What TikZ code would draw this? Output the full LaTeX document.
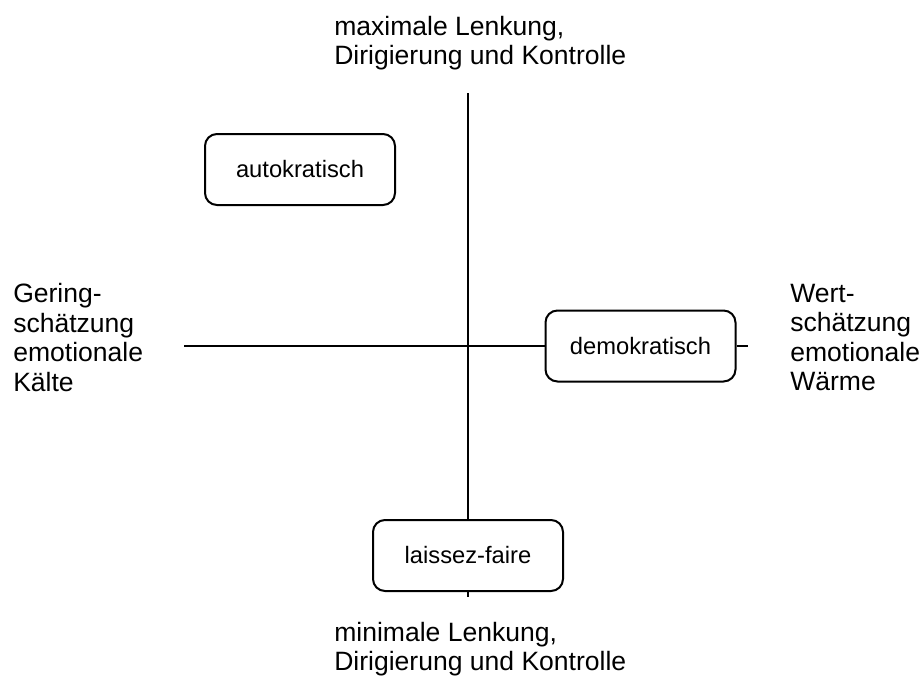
\documentclass[tikz,border=0pt]{standalone}
\usepackage{fontspec}
\setmainfont{Liberation Sans}
\usetikzlibrary{positioning}

\begin{document}
\begin{tikzpicture}[
  x=0.75pt, y=-0.75pt,
  stylebox/.style={rectangle, rounded corners=9pt, draw=black, line width=1.5pt, fill=white,
                   minimum width=142.5pt, minimum height=53.25pt, inner sep=0pt,
                   font=\fontsize{17.8}{21}\selectfont},
  axislabel/.style={align=left, inner sep=0pt, anchor=north west,
                    font=\fontsize{19.9}{22.1}\selectfont},
  axis/.style={line width=1.5pt}
]
\useasboundingbox (0,0) rectangle (921,678);

% end points of the two axes
\coordinate (top) at (468,93);
\coordinate (bottom) at (468,597);
\coordinate (left) at (184,346);
\coordinate (right) at (748,346);

% styles of leadership
\node[stylebox] (auto) at (300,169.5) {autokratisch};
\node[stylebox] (demo) at (640.5,346) {demokratisch};
\node[stylebox] (laissez) at (468,555.5) {laissez-faire};

\draw[axis] (top) -- (laissez.north);
\draw[axis] (laissez.south) -- (bottom);
\draw[axis] (left) -- (demo.west);
\draw[axis] (demo.east) -- (right);

% labels at the ends of the axes
\node[axislabel] (lenkmax) at (334,15.7) {maximale Lenkung,\\Dirigierung und Kontrolle};
\node[axislabel] (lenkmin) at (334,621.7) {minimale Lenkung,\\Dirigierung und Kontrolle};
\node[axislabel] (kalt) at (13,283.5) {Gering-\\schätzung\\emotionale\\Kälte};
\node[axislabel] (warm) at (790,284) {Wert-\\schätzung\\emotionale\\Wärme};

\end{tikzpicture}
\end{document}
